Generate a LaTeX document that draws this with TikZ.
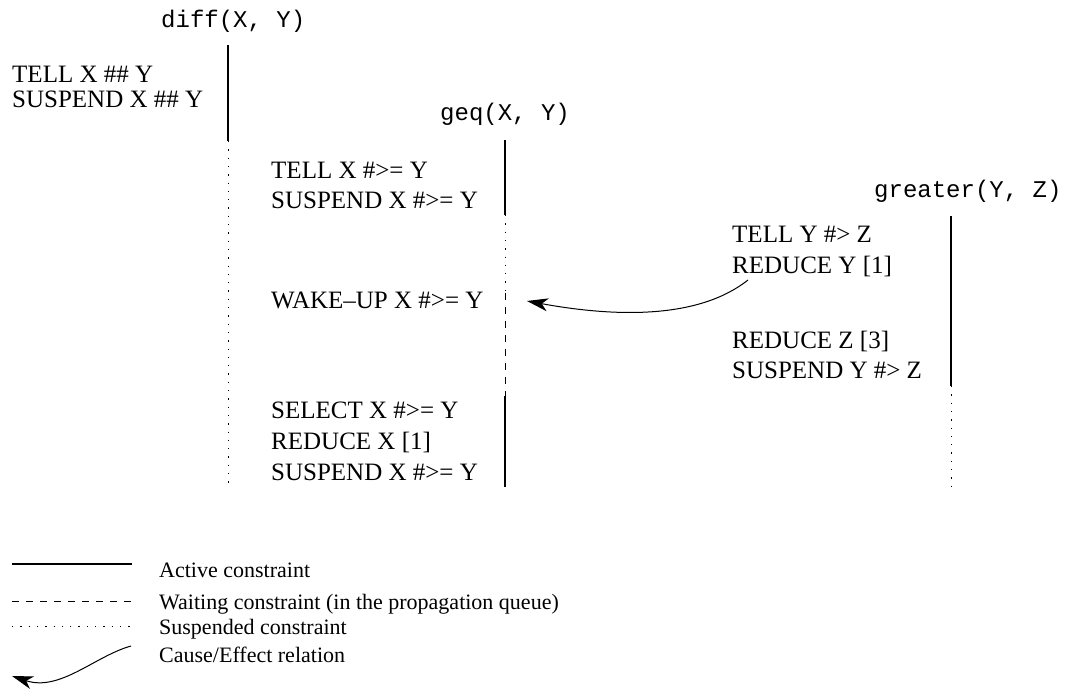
\documentclass[tikz,border=0pt]{standalone}
\usepackage{fontspec}
\setmainfont{Liberation Serif}
\setmonofont{Liberation Mono}
\usetikzlibrary{arrows.meta}
\begin{document}
\begin{tikzpicture}[x=1pt,y=-1pt,
  txt/.style={anchor=base west,inner sep=0pt,font=\fontsize{25}{29}\selectfont},
  leg/.style={anchor=base west,inner sep=0pt,font=\fontsize{22}{26}\selectfont},
  lbl/.style={anchor=base west,inner sep=0pt,font=\fontsize{24}{28}\selectfont\ttfamily},
  active/.style={line width=1.1pt},
  waiting/.style={line width=1pt,dash pattern=on 7pt off 7pt},
  suspended/.style={line width=1pt,dash pattern=on 1.3pt off 7pt},
  cause/.style={line width=1pt,-{Stealth[length=21pt,width=13pt,inset=6pt]}}]
\useasboundingbox (0,0) rectangle (1067,690);

% diff column
\node[lbl] (difflbl) at (161,28) {diff(X, Y)};
\node[txt] (d1t) at (12,83) {TELL X \#\# Y};
\node[txt] (d2t) at (12,108) {SUSPEND X \#\# Y};
\coordinate (dA) at (228,45);
\coordinate (dB) at (228,141);
\coordinate (dC) at (228,486);
\draw[active] (dA) -- (dB);
\draw[suspended] (dB) -- (dC);

% geq column
\node[lbl] (geqlbl) at (440,121) {geq(X, Y)};
\node[txt] (g1t) at (271,178) {TELL X \#>= Y};
\node[txt] (g2t) at (271,208) {SUSPEND X \#>= Y};
\node[txt] (g3t) at (271,308) {WAKE–UP X \#>= Y};
\node[txt] (g4t) at (271,418) {SELECT X \#>= Y};
\node[txt] (g5t) at (271,449) {REDUCE X [1]};
\node[txt] (g6t) at (271,480) {SUSPEND X \#>= Y};
\coordinate (gA) at (505,140);
\coordinate (gB) at (505,215);
\coordinate (gC) at (505,293);
\coordinate (gD) at (505,396);
\coordinate (gE) at (505,487);
\draw[active] (gA) -- (gB);
\draw[suspended] (gB) -- (gC);
\draw[waiting] (gC) -- (gD);
\draw[active] (gD) -- (gE);

% greater column
\node[lbl] (grlbl) at (874,197) {greater(Y, Z)};
\node[txt] (r1t) at (732,242) {TELL Y \#> Z};
\node[txt] (r2t) at (732,273) {REDUCE Y [1]};
\node[txt] (r3t) at (732,348) {REDUCE Z [3]};
\node[txt] (r4t) at (732,378) {SUSPEND Y \#> Z};
\coordinate (rA) at (951,216);
\coordinate (rB) at (951,386);
\coordinate (rC) at (951,487);
\draw[active] (rA) -- (rB);
\draw[suspended] (rB) -- (rC);

% cause/effect arrow
\coordinate (cs) at (748,280);
\coordinate (ce) at (527,301);
\draw[cause] (cs) .. controls (700,318) and (620,318) .. (ce);

% legend
\coordinate (l1a) at (12,564); \coordinate (l1b) at (132,564);
\coordinate (l2a) at (12,601); \coordinate (l2b) at (132,601);
\coordinate (l3a) at (12,626); \coordinate (l3b) at (132,626);
\coordinate (l4a) at (131,646); \coordinate (l4b) at (12,676);
\draw[active] (l1a) -- (l1b);
\draw[waiting] (l2a) -- (l2b);
\draw[suspended] (l3a) -- (l3b);
\draw[cause] (l4a) .. controls (95,656) and (60,692) .. (l4b);
\node[leg] (lg1) at (159,577) {Active constraint};
\node[leg] (lg2) at (159,609) {Waiting constraint (in the propagation queue)};
\node[leg] (lg3) at (159,634) {Suspended constraint};
\node[leg] (lg4) at (159,662) {Cause/Effect relation};
\end{tikzpicture}
\end{document}
